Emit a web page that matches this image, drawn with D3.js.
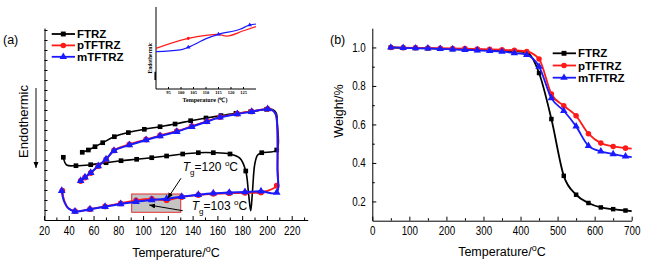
<!DOCTYPE html>
<html>
<head>
<meta charset="utf-8">
<script src="https://cdn.jsdelivr.net/npm/d3@7"></script>
<style>
body { margin: 0; background: #fff; }
svg { display: block; font-family: "Liberation Sans", Arial, sans-serif; }
.tick text { transform-box: fill-box; transform-origin: center; transform: scaleX(0.82); }
</style>
</head>
<body>
<svg id="chart"></svg>
<script>
// ---- (a) DSC loops: temperature, heat flow (arb.), marker flag ----
const ftrzT = [35.6, 38.3, 45.8, 57.7, 70.1, 82.2, 94.8, 107, 119, 132, 144.6, 156.7, 170.2, 178.3, 182.9, 185.2, 186.9, 188.3, 190.2, 192.5,
               195.8, 207.9, 208.4, 207.5, 204.5, 199.8, 186.9, 175, 162.9, 150.8, 138.4, 125.8, 113.7, 101, 88.1, 76.8, 67.4, 61.2, 55.8, 50.9];
const ftrzV = [6.27, 5.5, 5.43, 5.53, 5.73, 5.93, 6.07, 6.23, 6.4, 6.6, 6.73, 6.73, 6.6, 6.16, 4.9, 2.6, 0.93, 2.8, 5.6, 6.5,
               6.73, 7.0, 9.5, 10.7, 11.05, 11.07, 10.83, 10.67, 10.44, 10.2, 9.93, 9.6, 9.33, 9.07, 8.74, 8.33, 7.73, 7.33, 7.0, 6.77];
const ftrzM = [1,0,1,1,1,1,1,1,1,1, 1,1,1,0,1,0,0,0,0,0, 1,1,0,0,0,1,1,1,1,1, 1,1,1,1,1,1,1,1,1,1];

const ptT = [34.8, 36.2, 39.8, 45, 57.1, 69.3, 81.9, 94.3, 107, 119, 131.2, 144.6, 156.7, 169.6, 182.3, 195.2, 207.9, 208.5, 208.3, 207,
             204, 200.6, 187.7, 176.1, 162.1, 151.4, 139.3, 127.2, 113.7, 102.4, 88.9, 76.5, 70.1, 63.8, 57.7, 53.1, 49.6];
const ptV = [2.93, 2.0, 1.17, 0.88, 1.08, 1.36, 1.66, 1.97, 2.1, 1.98, 2.3, 2.5, 2.62, 2.68, 2.72, 2.76, 3.43, 5.5, 9.5, 10.62,
             11.02, 11.12, 10.86, 10.63, 10.3, 9.87, 9.38, 8.88, 8.45, 8.05, 7.56, 6.96, 6.05, 5.38, 4.7, 4.25, 3.9];
const ptM = [1,0,0,1,1,1,1,1,1,1, 1,1,1,1,1,1,1,0,0,0, 0,1,1,1,1,1,1,1,1,1, 1,1,1,1,1,1,1];

const mtT = [34.3, 35.8, 39.6, 45, 57.1, 69.3, 81.9, 94.3, 107, 119, 131.2, 144.6, 156.7, 169.6, 182.3, 195.2, 207.9, 208.5, 208.3, 207,
             204, 200.6, 187.7, 176.1, 162.1, 151.4, 139.3, 127.2, 113.7, 102.4, 88.9, 76.5, 70.1, 63.8, 57.7, 53.1, 49.6];
const mtV = [2.93, 2.0, 1.17, 0.86, 1.07, 1.33, 1.6, 1.83, 2.0, 2.13, 2.33, 2.53, 2.67, 2.74, 2.8, 2.87, 2.74, 5.0, 9.5, 10.6,
             11.0, 11.1, 10.83, 10.6, 10.27, 9.83, 9.33, 8.83, 8.4, 8.0, 7.5, 6.93, 6.07, 5.4, 4.73, 4.27, 3.93];
const mtM = [1,0,0,1,1,1,1,1,1,1, 1,1,1,1,1,1,1,0,0,0, 0,1,1,1,1,1,1,1,1,1, 1,1,1,1,1,1,1];

// inset (zoom of the Tg region)
const insetTicks = [95, 100, 105, 110, 115, 120, 125];
const inRedT = [90, 102.9, 110, 114.3, 118.3, 125, 130];
const inRedV = [4.96, 6.18, 6.55, 6.67, 6.46, 7.1, 7.6];
const inRedM = [0, 1, 0, 0, 0, 0, 0];
const inBlueT = [90, 99.6, 102.9, 110.3, 115, 123.6, 127.5, 130];
const inBlueV = [4.55, 4.76, 5.09, 6.18, 6.67, 7.28, 7.8, 7.93];
const inBlueM = [0, 0, 1, 0, 1, 0, 1, 0];
const inBlackT = [90, 90];
const inBlackV = [1.1, 2.1];

// ---- (b) TGA ----
const tgaT = [50, 83.3, 116.7, 150, 183.3, 216.7, 250, 283.3, 316.7, 350, 383.3, 416.7, 450, 483.3, 516.7, 550, 583.3, 616.7, 650, 683.3, 700];
const tgaFTRZ = [1.0, 0.998, 0.997, 0.995, 0.993, 0.991, 0.989, 0.987, 0.985, 0.983, 0.98, 0.974, 0.867, 0.628, 0.333, 0.235, 0.192, 0.169, 0.16, 0.153, 0.15];
const tgaPT = [1.0, 0.999, 0.998, 0.997, 0.996, 0.995, 0.994, 0.992, 0.99, 0.988, 0.985, 0.979, 0.94, 0.758, 0.697, 0.645, 0.552, 0.503, 0.486, 0.477, 0.474];
const tgaMT = [1.0, 0.998, 0.996, 0.995, 0.993, 0.99, 0.988, 0.985, 0.982, 0.978, 0.971, 0.962, 0.901, 0.737, 0.671, 0.59, 0.489, 0.46, 0.446, 0.434, 0.43];

const names = ['FTRZ', 'pTFTRZ', 'mTFTRZ'];
const colors = ['#000000', '#ff1a1a', '#1a1aff'];
const symbols = [d3.symbolSquare, d3.symbolCircle, d3.symbolTriangle];

const W = 654, H = 262;
const svg = d3.select('#chart').attr('width', W).attr('height', H);
svg.append('rect').attr('width', W).attr('height', H).attr('fill', '#fff');

const defs = svg.append('defs');
defs.append('marker').attr('id', 'head')
    .attr('markerUnits', 'userSpaceOnUse')
    .attr('markerWidth', 7).attr('markerHeight', 6)
    .attr('refX', 6).attr('refY', 2.5).attr('orient', 'auto')
    .append('path').attr('d', 'M0,0 L6,2.5 L0,5 Z').attr('fill', '#000');

function sym(g, i, cx, cy, size) {
    g.append('path')
        .attr('d', d3.symbol().type(symbols[i]).size(size)())
        .attr('transform', `translate(${cx},${cy})`)
        .attr('fill', colors[i]);
}

function series(g, xs, ys, T, V, M, i, curve, width, size) {
    const pts = T.map((t, k) => ({t, v: V[k], m: M ? M[k] : 1}));
    g.append('path').datum(pts)
        .attr('fill', 'none').attr('stroke', colors[i]).attr('stroke-width', width)
        .attr('d', d3.line().x(d => xs(d.t)).y(d => ys(d.v)).curve(curve));
    pts.filter(d => d.m).forEach(d => sym(g, i, xs(d.t), ys(d.v), size));
}

// ================= panel (a) =================
const xa = d3.scaleLinear().domain([20, 233]).range([44, 307.8]);
const ya = d3.scaleLinear().domain([0, 19.2]).range([220, 28]);
const ga = svg.append('g');

// shaded Tg region
ga.append('rect')
    .attr('x', xa(90.8)).attr('y', ya(2.6))
    .attr('width', xa(130.4) - xa(90.8)).attr('height', ya(0.77) - ya(2.6))
    .attr('fill', '#c4c4c4').attr('stroke', '#e03030').attr('stroke-width', 1);

const cr = d3.curveCatmullRom.alpha(0.5);
series(ga, xa, ya, ftrzT, ftrzV, ftrzM, 0, cr, 1.6, 22);
series(ga, xa, ya, ptT, ptV, ptM, 1, cr, 1.8, 26);
series(ga, xa, ya, mtT, mtV, mtM, 2, cr, 2, 26);

// axes
ga.append('g').attr('transform', 'translate(0,220)')
    .call(d3.axisBottom(xa).tickValues(d3.range(30, 231, 20)).tickSize(-2.5).tickFormat(''))
    .call(g => g.select('.domain').remove());
ga.append('g').attr('transform', 'translate(0,220)')
    .call(d3.axisBottom(xa).tickValues(d3.range(20, 221, 20)).tickSize(-4).tickPadding(6).tickSizeOuter(0))
    .call(g => g.selectAll('text').attr('font-size', 12).attr('font-family', '"Liberation Sans", Arial, sans-serif'));
ga.append('g').attr('transform', 'translate(44.5,0)')
    .call(d3.axisLeft(ya).tickValues(d3.range(1, 19.1, 1)).tickSize(-3).tickFormat('').tickSizeOuter(0));
svg.selectAll('.domain, .tick line').attr('stroke', '#000');

// axis titles
const xt = ga.append('text').attr('x', 176).attr('y', 257).attr('text-anchor', 'middle').attr('font-size', 12.5);
xt.append('tspan').text('Temperature/');
xt.append('tspan').attr('dy', -5).attr('font-size', 9).text('o');
xt.append('tspan').attr('dy', 5).text('C');

ga.append('text').attr('transform', 'translate(27.5,121.5) rotate(-90)')
    .attr('text-anchor', 'middle').attr('font-size', 13).text('Endothermic');
ga.append('line').attr('x1', 36).attr('y1', 88).attr('x2', 36).attr('y2', 168)
    .attr('stroke', '#444').attr('stroke-width', 1.3).attr('marker-end', 'url(#head)');
ga.append('text').attr('x', 3).attr('y', 44).attr('font-size', 12.5).text('(a)');

// Tg annotations
function tgLabel(tx, tv, val) {
    const t = ga.append('text').attr('x', xa(tx)).attr('y', ya(tv)).attr('font-size', 12);
    t.append('tspan').attr('font-style', 'italic').text('T');
    t.append('tspan').attr('dy', 4).attr('font-size', 8).text('g');
    t.append('tspan').attr('dy', -4).text('=' + val + ' ');
    t.append('tspan').attr('dy', -5).attr('font-size', 8).text('o');
    t.append('tspan').attr('dy', 5).text('C');
}
tgLabel(132, 4.93, 120);
tgLabel(139.3, 1.05, 103);
ga.append('line').attr('x1', xa(130.6)).attr('y1', ya(4.17)).attr('x2', xa(119.8)).attr('y2', ya(2.15))
    .attr('stroke', '#000').attr('stroke-width', 1).attr('marker-end', 'url(#head)');
ga.append('line').attr('x1', xa(132)).attr('y1', ya(0.93)).attr('x2', xa(104.9)).attr('y2', ya(1.5))
    .attr('stroke', '#000').attr('stroke-width', 1).attr('marker-end', 'url(#head)');

// legend (a)
names.forEach((n, i) => {
    const ly = 34 + i * 11.4;
    ga.append('line').attr('x1', 51.7).attr('x2', 75).attr('y1', ly).attr('y2', ly)
        .attr('stroke', colors[i]).attr('stroke-width', 1.8);
    sym(ga, i, 63.3, ly, 24);
    ga.append('text').attr('x', 77).attr('y', ly + 4).attr('font-size', 11.5).attr('font-weight', 'bold').text(n);
});

// inset
const xi = d3.scaleLinear().domain([90, 130]).range([156, 256]);
const yi = d3.scaleLinear().domain([0, 10]).range([89, 7]);
const gi = svg.append('g');
gi.append('line').attr('x1', 156).attr('x2', 156).attr('y1', 7).attr('y2', 89).attr('stroke', '#000');
gi.append('line').attr('x1', 156).attr('x2', 256).attr('y1', 89).attr('y2', 89).attr('stroke', '#000');
insetTicks.forEach(t => {
    gi.append('line').attr('x1', xi(t)).attr('x2', xi(t)).attr('y1', 89).attr('y2', 87).attr('stroke', '#000');
    gi.append('text').attr('x', xi(t)).attr('y', 94).attr('text-anchor', 'middle')
        .attr('font-family', '"Liberation Serif", serif').attr('font-weight', 'bold').attr('font-size', 4.5).text(t);
});
gi.append('text').attr('x', 205).attr('y', 102).attr('text-anchor', 'middle')
    .attr('font-family', '"Liberation Serif", serif').attr('font-weight', 'bold').attr('font-size', 6).text('Temperature (\u2103)');
gi.append('text').attr('transform', 'translate(151.5,58) rotate(-90)').attr('text-anchor', 'middle')
    .attr('font-family', '"Liberation Serif", serif').attr('font-weight', 'bold').attr('font-size', 5.5).text('Endothermic');
gi.append('path').datum(inBlackT.map((t, k) => [xi(t) - 0.8, yi(inBlackV[k])]))
    .attr('stroke', '#000').attr('stroke-width', 1.5).attr('d', d3.line());
const mc = d3.curveMonotoneX;
series(gi, xi, yi, inRedT, inRedV, inRedM, 1, mc, 1.2, 8);
series(gi, xi, yi, inBlueT, inBlueV, inBlueM, 2, mc, 1.2, 9);

// ================= panel (b) =================
const xb = d3.scaleLinear().domain([0, 700]).range([372.3, 631.7]);
const yb = d3.scaleLinear().domain([0.1, 1.1]).range([220.7, 28.2]);
const gb = svg.append('g');

[tgaFTRZ, tgaPT, tgaMT].forEach((vals, i) => {
    const M = tgaT.map((t, k) => k < tgaT.length - 1 ? 1 : 0);
    series(gb, xb, yb, tgaT, vals, M, i, d3.curveMonotoneX, 1.8, i === 0 ? 20 : 24);
});

gb.append('g').attr('transform', 'translate(0,220.7)')
    .call(d3.axisBottom(xb).tickValues(d3.range(50, 700, 100)).tickSize(-2.5).tickFormat(''))
    .call(g => g.select('.domain').remove());
gb.append('g').attr('transform', 'translate(0,220.7)')
    .call(d3.axisBottom(xb).tickValues(d3.range(0, 701, 100)).tickSize(-4).tickPadding(6).tickSizeOuter(0))
    .call(g => g.selectAll('text').attr('font-size', 12).attr('font-family', '"Liberation Sans", Arial, sans-serif'));
gb.append('g').attr('transform', 'translate(372.3,0)')
    .call(d3.axisLeft(yb).tickValues([0.3, 0.5, 0.7, 0.9]).tickSize(-2.5).tickFormat(''))
    .call(g => g.select('.domain').remove());
gb.append('g').attr('transform', 'translate(372.3,0)')
    .call(d3.axisLeft(yb).tickValues([0.2, 0.4, 0.6, 0.8, 1.0]).tickSize(-4).tickPadding(5).tickSizeOuter(0).tickFormat(d3.format('.1f')))
    .call(g => g.selectAll('text').attr('font-size', 12).attr('font-family', '"Liberation Sans", Arial, sans-serif'));
svg.selectAll('.domain, .tick line').attr('stroke', '#000');

const xbt = gb.append('text').attr('x', 502).attr('y', 256).attr('text-anchor', 'middle').attr('font-size', 12.5);
xbt.append('tspan').text('Temperature/');
xbt.append('tspan').attr('dy', -5).attr('font-size', 9).text('o');
xbt.append('tspan').attr('dy', 5).text('C');
gb.append('text').attr('transform', 'translate(343,111) rotate(-90)')
    .attr('text-anchor', 'middle').attr('font-size', 12.5).text('Weight/%');
gb.append('text').attr('x', 330).attr('y', 44).attr('font-size', 12.5).text('(b)');

names.forEach((n, i) => {
    const ly = 53.3 + i * 12.2;
    gb.append('line').attr('x1', 552.7).attr('x2', 576).attr('y1', ly).attr('y2', ly)
        .attr('stroke', colors[i]).attr('stroke-width', 1.8);
    sym(gb, i, 564, ly, 24);
    gb.append('text').attr('x', 578).attr('y', ly + 4).attr('font-size', 11.5).attr('font-weight', 'bold').text(n);
});
</script>
</body>
</html>
